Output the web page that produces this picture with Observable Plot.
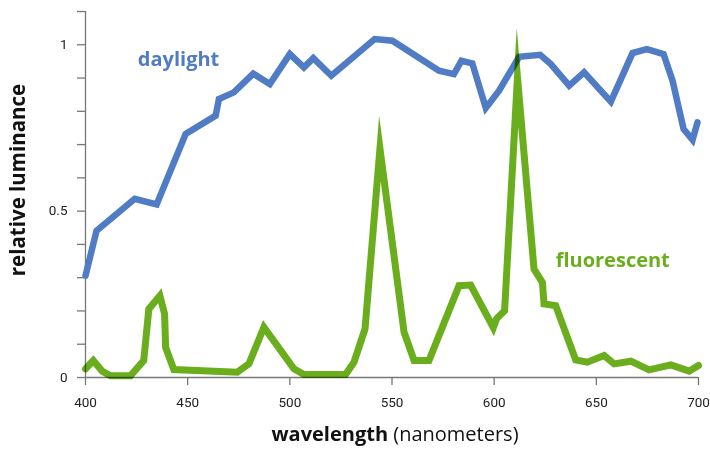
<!DOCTYPE html>
<html>
<head>
<meta charset="utf-8">
<script src="https://cdn.jsdelivr.net/npm/d3@7"></script>
<script src="https://cdn.jsdelivr.net/npm/@observablehq/plot@0.6"></script>
<style>
  html, body { margin: 0; padding: 0; background: #fff; }
  #chart { width: 710px; height: 450px; }
</style>
</head>
<body>
<div id="chart"></div>
<script>
// Daylight spectrum (wavelength nm, relative luminance)
const daylightWavelength = [400, 405.4, 424.1, 434.8, 449.0, 463.7, 465.3, 472.6, 482.1, 490.2, 500.0, 506.9, 511.5, 520.3, 541.5, 550.2, 573.0, 580.3, 584.0, 589.3, 595.9, 602.4, 612.2, 622.5, 627.7, 636.7, 644.0, 657.1, 667.7, 674.7, 682.9, 687.3, 692.7, 697.1, 699.5];
const daylightValue = [0.306, 0.441, 0.537, 0.520, 0.732, 0.787, 0.837, 0.857, 0.913, 0.882, 0.972, 0.932, 0.960, 0.907, 1.017, 1.012, 0.922, 0.912, 0.952, 0.944, 0.810, 0.862, 0.964, 0.970, 0.942, 0.877, 0.917, 0.829, 0.975, 0.987, 0.972, 0.892, 0.747, 0.714, 0.767];

// Fluorescent spectrum
const fluorescentWavelength = [400, 403.8, 408.2, 412.2, 422.0, 428.5, 431.0, 436.4, 438.7, 439.2, 443.2, 474.3, 480.0, 487.3, 502.0, 506.9, 527.3, 531.4, 536.8, 544.1, 555.9, 560.8, 568.1, 582.8, 588.5, 599.6, 601.2, 605.1, 611.4, 619.5, 623.6, 624.4, 630.1, 639.9, 645.6, 653.8, 658.7, 666.9, 675.8, 686.5, 695.4, 700];
const fluorescentValue = [0.026, 0.051, 0.019, 0.005, 0.005, 0.051, 0.206, 0.246, 0.191, 0.091, 0.024, 0.016, 0.041, 0.151, 0.026, 0.009, 0.009, 0.046, 0.146, 0.688, 0.136, 0.051, 0.051, 0.276, 0.278, 0.150, 0.177, 0.201, 0.902, 0.326, 0.286, 0.221, 0.216, 0.053, 0.046, 0.066, 0.041, 0.049, 0.023, 0.038, 0.019, 0.036];

// Axis ticks
const xTicks = [400, 450, 500, 550, 600, 650, 700];
const yTicks = [0, 0.1, 0.2, 0.3, 0.4, 0.5, 0.6, 0.7, 0.8, 0.9, 1.0, 1.1];
const yTickLabels = ["0", "", "", "", "", "0.5", "", "", "", "", "1", ""];

// Series labels (name, wavelength, luminance)
const seriesNames = ["daylight", "fluorescent"];
const labelWavelength = [425.6, 630.1];
const labelValue = [0.956, 0.350];

const blue = "#4f7cc4";
const green = "#6aae1e";

const daylight = daylightWavelength.map((w, i) => ({w, v: daylightValue[i]}));
const fluorescent = fluorescentWavelength.map((w, i) => ({w, v: fluorescentValue[i]}));
const labels = seriesNames.map((name, i) => ({name, w: labelWavelength[i], v: labelValue[i], color: i === 0 ? blue : green}));

const axisColor = "#777";

const chart = Plot.plot({
  width: 710,
  height: 450,
  marginLeft: 85,
  marginRight: 12,
  marginTop: 11,
  marginBottom: 73,
  style: {fontFamily: "Roboto, sans-serif", background: "#fff", overflow: "visible"},
  x: {domain: [400, 700]},
  y: {domain: [0, 1.1]},
  marks: [
    Plot.axisX({ticks: xTicks, tickSize: 8, tickPadding: 12, stroke: axisColor, strokeWidth: 1.3, fill: "#222", fontSize: 13.5, label: null, tickFormat: d => String(d)}),
    Plot.axisY({ticks: yTicks, tickSize: 8, tickPadding: 10, stroke: axisColor, strokeWidth: 1.3, fill: "#222", fontSize: 13.5, label: null, tickFormat: (d) => yTickLabels[yTicks.findIndex(t => Math.abs(t - d) < 1e-9)] ?? ""}),
    Plot.ruleX([400], {stroke: axisColor, strokeWidth: 1.3}),
    Plot.ruleY([0], {stroke: axisColor, strokeWidth: 1.3}),
    Plot.line(daylight, {x: "w", y: "v", stroke: blue, strokeWidth: 6.5, strokeLinejoin: "miter", strokeMiterlimit: 4}),
    Plot.line(fluorescent, {x: "w", y: "v", stroke: green, strokeWidth: 7, strokeLinejoin: "miter", strokeMiterlimit: 20, mixBlendMode: "multiply"}),
    Plot.text(labels, {x: "w", y: "v", text: "name", fill: "color", textAnchor: "start", lineAnchor: "middle", fontSize: 20, fontWeight: "bold", fontFamily: "'Open Sans', sans-serif"})
  ]
});

document.getElementById("chart").appendChild(chart);

// Axis titles
const svg = d3.select(chart);
svg.append("text")
  .attr("transform", "translate(25,180) rotate(-90)")
  .attr("text-anchor", "middle")
  .attr("font-family", "'Open Sans', sans-serif")
  .attr("font-weight", "bold")
  .attr("font-size", 20.5)
  .attr("fill", "#111")
  .text("relative luminance");

const xt = svg.append("text")
  .attr("x", 395)
  .attr("y", 441)
  .attr("text-anchor", "middle")
  .attr("font-family", "'Open Sans', sans-serif")
  .attr("font-size", 20)
  .attr("fill", "#111");
xt.append("tspan").attr("font-weight", "bold").text("wavelength");
xt.append("tspan").attr("font-weight", "normal").text(" (nanometers)");
</script>
</body>
</html>
